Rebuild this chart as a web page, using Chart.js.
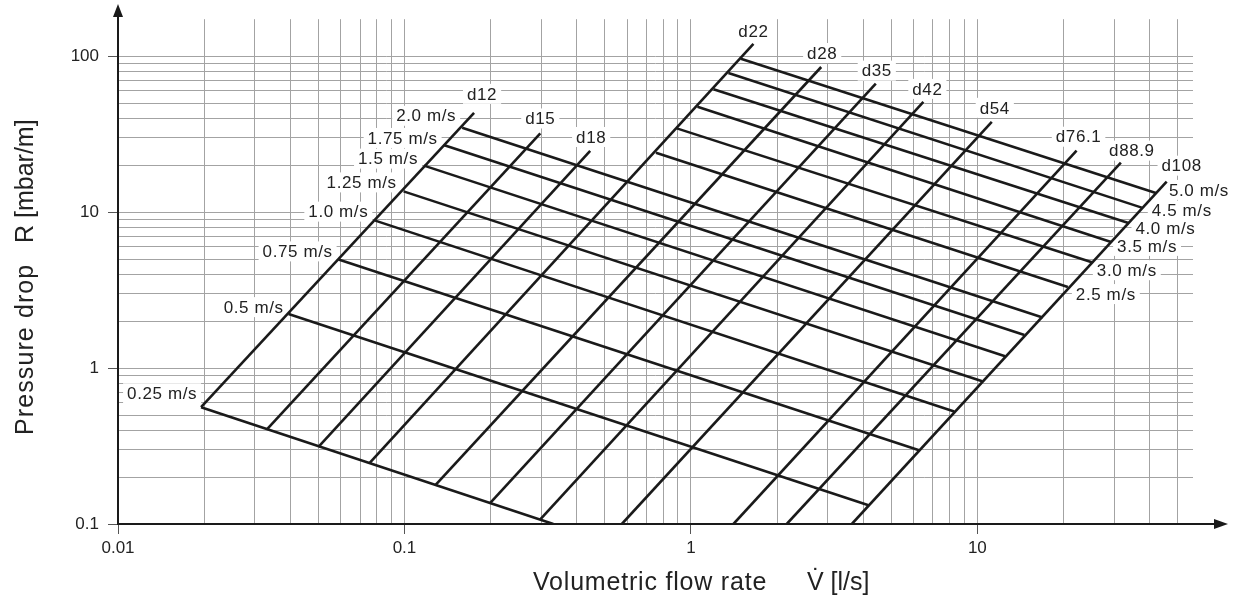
<!DOCTYPE html>
<html>
<head>
<meta charset="utf-8">
<script src="https://cdn.jsdelivr.net/npm/chart.js@4.4.1/dist/chart.umd.min.js"></script>
<style>
  html, body { margin: 0; padding: 0; background: #fff; }
  #wrap { width: 1238px; height: 598px; }
</style>
</head>
<body>
<div id="wrap"><canvas id="chart" width="1238" height="598"></canvas></div>
<script>
// pipe sizes: steep lines, flow [l/s] and pressure drop [mbar/m] at both ends
const diameters = ["d12", "d15", "d18", "d22", "d28", "d35", "d42", "d54", "d76.1", "d88.9", "d108"];
const dLowFlow  = [0.0195, 0.0331, 0.0501, 0.0755, 0.128, 0.199, 0.298, 0.574, 1.408, 2.161, 3.646];
const dLowDrop  = [0.561, 0.404, 0.312, 0.246, 0.177, 0.136, 0.107, 0.1, 0.1, 0.1, 0.1];
const dHighFlow = [0.175, 0.298, 0.445, 1.653, 2.85, 4.42, 6.48, 11.23, 22.2, 31.7, 45.8];
const dHighDrop = [43.4, 32.0, 24.7, 120, 85.4, 66.8, 51.0, 38.0, 24.8, 20.8, 15.7];

// flow velocities: falling lines
const velocities = ["0.25 m/s", "0.5 m/s", "0.75 m/s", "1.0 m/s", "1.25 m/s", "1.5 m/s", "1.75 m/s",
                    "2.0 m/s", "2.5 m/s", "3.0 m/s", "3.5 m/s", "4.0 m/s", "4.5 m/s", "5.0 m/s"];
const vStartFlow = [0.0195, 0.0394, 0.0589, 0.0791, 0.0993, 0.117, 0.137, 0.159, 0.755, 0.893, 1.054, 1.199, 1.352, 1.494];
const vStartDrop = [0.561, 2.22, 4.98, 8.83, 13.6, 19.9, 27.0, 34.8, 24.1, 34.5, 47.5, 61.5, 78.2, 96.5];
const vEndFlow   = [0.331, 4.17, 6.26, 8.30, 10.4, 12.5, 14.6, 16.9, 20.7, 25.1, 29.3, 33.7, 37.5, 42.0];
const vEndDrop   = [0.1, 0.132, 0.297, 0.527, 0.823, 1.19, 1.63, 2.11, 3.31, 4.78, 6.45, 8.53, 10.7, 13.3];

const xTickLabels = [0.01, 0.1, 1, 10];
const yTickLabels = [0.1, 1, 10, 100];

const X_MIN = 0.01, X_MAX = 56.6, X_GRID_TO = 50;
const Y_MIN = 0.1, Y_MAX = 173, Y_GRID_TO = 100;

// label placement (pixel shift from the line end)
const dLabelShift = [[8,-19],[0,-15],[1,-14],[0,-13],[1,-14],[1,-13],[4,-13],[3,-14],[2,-14],[11,-12],[15,-16]];
const vLabelShift = [[-4,-14],[-5,-7],[-6,-8],[-7,-9],[-7,-9],[-6,-7],[-6,-7],[-6,-12],
                     [8,7],[5,8],[6,4],[7,5],[10,3],[13,-3]];

const FONT = '"Liberation Sans", Arial, Helvetica, sans-serif';
const TEXT = "#222";

function gridValues(from, to) {
  let vals = [];
  for (let e = Math.round(Math.log10(from)); ; e++) {
    for (let m = 1; m <= 9; m++) {
      let v = Number((m * Math.pow(10, e)).toPrecision(6));
      if (v > to) return vals;
      vals.push(v);
    }
  }
}

function isDecade(v) {
  let l = Math.log10(v);
  return Math.abs(l - Math.round(l)) < 1e-9;
}

const xGrid = gridValues(X_MIN, X_GRID_TO);
const yGrid = gridValues(Y_MIN, Y_GRID_TO);

let datasets = [];
for (let i = 0; i < diameters.length; i++) {
  datasets.push({
    label: diameters[i],
    data: [{ x: dLowFlow[i], y: dLowDrop[i] }, { x: dHighFlow[i], y: dHighDrop[i] }]
  });
}
for (let i = 0; i < velocities.length; i++) {
  datasets.push({
    label: velocities[i],
    data: [{ x: vStartFlow[i], y: vStartDrop[i] }, { x: vEndFlow[i], y: vEndDrop[i] }]
  });
}
datasets.forEach(function (ds) {
  ds.borderColor = "#1a1a1a";
  ds.borderWidth = 2.6;
  ds.pointRadius = 0;
  ds.fill = false;
  ds.tension = 0;
  ds.borderCapStyle = "butt";
});

function boxedText(ctx, text, x, y, align) {
  let w = ctx.measureText(text).width;
  let left = align === "right" ? x - w : (align === "center" ? x - w / 2 : x);
  ctx.fillStyle = "#fff";
  ctx.fillRect(left - 4, y - 10, w + 8, 20);
  ctx.fillStyle = TEXT;
  ctx.textAlign = align;
  ctx.textBaseline = "middle";
  ctx.fillText(text, x, y + 1);
}

const extras = {
  id: "extras",
  beforeDatasetsDraw(chart) {
    let ctx = chart.ctx;
    let xs = chart.scales.x, ys = chart.scales.y;
    ctx.save();
    ctx.font = "17px " + FONT;
    try { ctx.letterSpacing = "0.6px"; } catch (e) {}
    for (let i = 0; i < diameters.length; i++) {
      let px = xs.getPixelForValue(dHighFlow[i]) + dLabelShift[i][0];
      let py = ys.getPixelForValue(dHighDrop[i]) + dLabelShift[i][1];
      boxedText(ctx, diameters[i], px, py, "center");
    }
    for (let i = 0; i < velocities.length; i++) {
      let sh = vLabelShift[i];
      if (sh[0] < 0) {
        let px = xs.getPixelForValue(vStartFlow[i]) + sh[0];
        let py = ys.getPixelForValue(vStartDrop[i]) + sh[1];
        boxedText(ctx, velocities[i], px, py, "right");
      } else {
        let px = xs.getPixelForValue(vEndFlow[i]) + sh[0];
        let py = ys.getPixelForValue(vEndDrop[i]) + sh[1];
        boxedText(ctx, velocities[i], px, py, "left");
      }
    }
    ctx.restore();
  },
  afterDraw(chart) {
    let ctx = chart.ctx;
    let a = chart.chartArea;
    ctx.save();
    // axes with arrows
    ctx.strokeStyle = "#1a1a1a";
    ctx.fillStyle = "#1a1a1a";
    ctx.lineWidth = 2;
    ctx.beginPath();
    ctx.moveTo(a.left, a.bottom + 1);
    ctx.lineTo(a.left, 14);
    ctx.moveTo(a.left - 1, a.bottom);
    ctx.lineTo(1218, a.bottom);
    ctx.stroke();
    ctx.beginPath();
    ctx.moveTo(a.left, 4);
    ctx.lineTo(a.left - 5, 17);
    ctx.lineTo(a.left + 5, 17);
    ctx.closePath();
    ctx.fill();
    ctx.beginPath();
    ctx.moveTo(1228, a.bottom);
    ctx.lineTo(1214, a.bottom - 5);
    ctx.lineTo(1214, a.bottom + 5);
    ctx.closePath();
    ctx.fill();

    // axis titles
    ctx.fillStyle = TEXT;
    ctx.font = "25px " + FONT;
    ctx.textAlign = "left";
    ctx.textBaseline = "alphabetic";
    try { ctx.letterSpacing = "0.8px"; } catch (e) {}
    ctx.fillText("Volumetric flow rate", 533, 590);
    try { ctx.letterSpacing = "0px"; } catch (e) {}
    ctx.fillText("V\u0307 [l/s]", 807, 590);
    ctx.translate(33, 0);
    ctx.rotate(-Math.PI / 2);
    try { ctx.letterSpacing = "1.1px"; } catch (e) {}
    ctx.fillText("Pressure drop", -435, 0);
    try { ctx.letterSpacing = "0px"; } catch (e) {}
    ctx.fillText("R [mbar/m]", -243, 0);
    ctx.restore();
  }
};

new Chart(document.getElementById("chart"), {
  type: "line",
  data: { datasets: datasets },
  options: {
    responsive: false,
    animation: false,
    events: [],
    layout: { padding: { top: 17, right: 45, left: 0, bottom: 0 } },
    plugins: { legend: { display: false }, tooltip: { enabled: false } },
    scales: {
      x: {
        type: "logarithmic",
        min: X_MIN,
        max: X_MAX,
        afterBuildTicks: function (s) { s.ticks = xGrid.map(v => ({ value: v })); },
        afterFit: function (s) { s.height = 74; },
        border: { display: false },
        grid: {
          color: "#a3a3a3",
          lineWidth: 1,
          tickLength: 10,
          tickColor: ctx => (ctx.tick && isDecade(ctx.tick.value)) ? "#555" : "rgba(0,0,0,0)"
        },
        ticks: {
          autoSkip: false,
          maxRotation: 0,
          padding: 4,
          color: TEXT,
          font: { family: FONT, size: 17 },
          callback: v => xTickLabels.includes(v) ? String(v) : ""
        }
      },
      y: {
        type: "logarithmic",
        min: Y_MIN,
        max: Y_MAX,
        afterBuildTicks: function (s) { s.ticks = yGrid.map(v => ({ value: v })); },
        afterFit: function (s) { s.width = 118; },
        border: { display: false },
        grid: {
          color: "#a3a3a3",
          lineWidth: 1,
          tickLength: 10,
          tickColor: ctx => (ctx.tick && isDecade(ctx.tick.value)) ? "#555" : "rgba(0,0,0,0)"
        },
        ticks: {
          autoSkip: false,
          padding: 9,
          color: TEXT,
          font: { family: FONT, size: 17 },
          callback: v => yTickLabels.includes(v) ? String(v) : ""
        }
      }
    }
  },
  plugins: [extras]
});
</script>
</body>
</html>
